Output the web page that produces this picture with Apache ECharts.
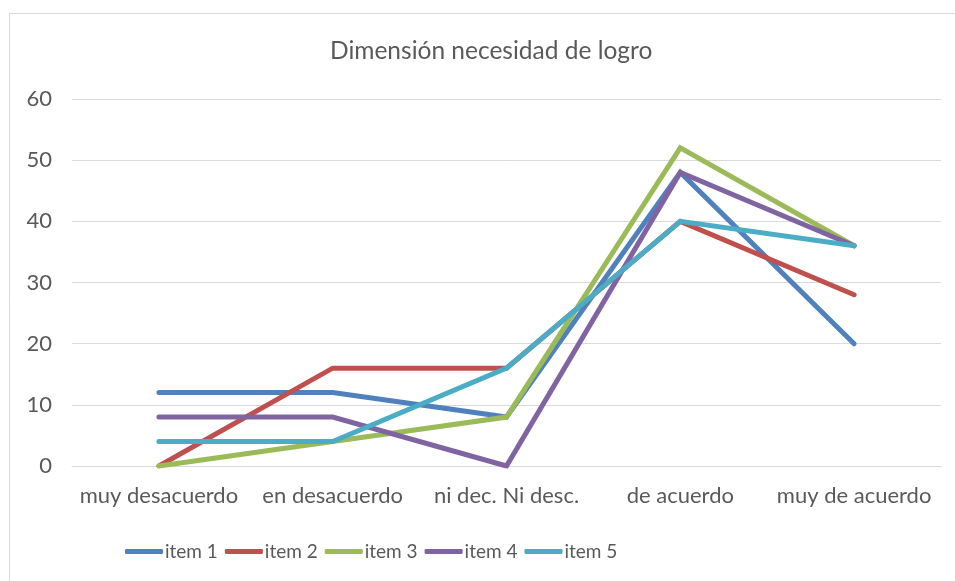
<!DOCTYPE html>
<html>
<head>
<meta charset="utf-8">
<script src="https://cdn.jsdelivr.net/npm/echarts@6/dist/echarts.min.js"></script>
<style>
  html, body { margin: 0; padding: 0; background: #fff; }
  #chart { width: 955px; height: 581px; }
</style>
</head>
<body>
<div id="chart"></div>
<script>
const categories = ['muy desacuerdo', 'en desacuerdo', 'ni dec. Ni desc.', 'de acuerdo', 'muy de acuerdo'];
const item1 = [12, 12, 8, 48, 20];
const item2 = [0, 16, 16, 40, 28];
const item3 = [0, 4, 8, 52, 36];
const item4 = [8, 8, 0, 48, 36];
const item5 = [4, 4, 16, 40, 36];
const seriesNames = ['item 1', 'item 2', 'item 3', 'item 4', 'item 5'];
const colors = ['#4F81BD', '#C0504D', '#9BBB59', '#8064A2', '#4BACC6'];

const font = 'Lato, "Open Sans", sans-serif';
const chart = echarts.init(document.getElementById('chart'));

const makeLine = (name, data, i) => ({
  name: name,
  type: 'line',
  data: data,
  symbol: 'none',
  lineStyle: { width: 5, color: colors[i], cap: 'round', join: 'miter' },
  itemStyle: { color: colors[i] }
});

let option = {
  animation: false,
  graphic: [{
    type: 'rect',
    shape: { x: 9.5, y: 13.5, width: 980, height: 620 },
    style: { fill: 'none', stroke: '#d9d9d9', lineWidth: 1 },
    silent: true
  }],
  title: {
    text: 'Dimensión necesidad de logro',
    left: 325,
    top: 34,
    textStyle: { fontFamily: font, fontSize: 24.5, fontWeight: 'normal', color: '#595959' }
  },
  grid: { left: 72, right: 14, top: 99, bottom: 115 },
  xAxis: {
    type: 'category',
    data: categories,
    boundaryGap: true,
    axisLine: { show: true, lineStyle: { color: '#d9d9d9', width: 1 } },
    axisTick: { show: false },
    axisLabel: { fontFamily: font, fontSize: 22, color: '#595959', margin: 19, interval: 0 }
  },
  yAxis: {
    type: 'value',
    min: 0,
    max: 60,
    interval: 10,
    axisLine: { show: false },
    axisTick: { show: false },
    splitLine: { lineStyle: { color: '#d9d9d9', width: 1 } },
    axisLabel: { fontFamily: font, fontSize: 22, color: '#595959', margin: 20 }
  },
  legend: {
    data: seriesNames,
    bottom: 15,
    left: 120,
    itemWidth: 38,
    itemHeight: 5,
    itemGap: 7,
    icon: 'roundRect',
    textStyle: { fontFamily: font, fontSize: 19, color: '#595959', padding: [0, 0, 0, -3] }
  },
  series: [
    makeLine(seriesNames[0], item1, 0),
    makeLine(seriesNames[1], item2, 1),
    makeLine(seriesNames[2], item3, 2),
    makeLine(seriesNames[3], item4, 3),
    makeLine(seriesNames[4], item5, 4)
  ]
};
chart.setOption(option);
</script>
</body>
</html>
